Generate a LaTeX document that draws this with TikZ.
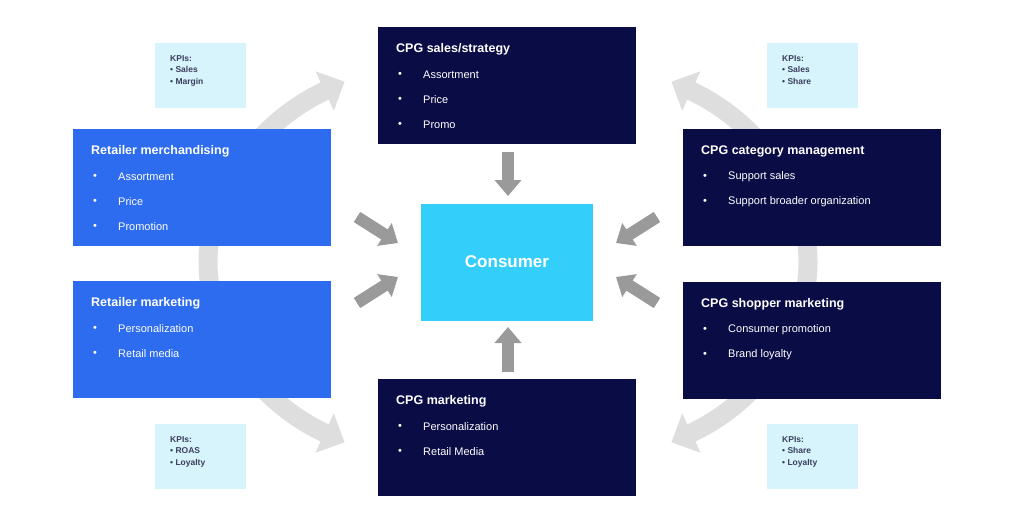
\documentclass[tikz,border=0pt]{standalone}
\usepackage{fontspec}
\setmainfont{Liberation Sans}
\usetikzlibrary{arrows.meta}
\definecolor{navy}{HTML}{0A0C45}
\definecolor{rblue}{HTML}{2D6BEF}
\definecolor{cons}{HTML}{33CEFA}
\definecolor{kpi}{HTML}{D7F3FC}
\definecolor{ring}{HTML}{DEDEDE}
\definecolor{garr}{HTML}{9A9A9A}
\definecolor{kpitext}{HTML}{3A3F5C}
\tikzset{
 box/.style={draw=none,minimum width=258pt,minimum height=117pt,anchor=north west,inner sep=0},
 ttl/.style={anchor=west,text=white,font=\bfseries\fontsize{12.5}{14}\selectfont,inner sep=0},
 itm/.style={anchor=west,text=white,font=\fontsize{11}{13}\selectfont,inner sep=0},
 kbox/.style={fill=kpi,minimum width=91pt,minimum height=65pt,anchor=north west,inner sep=0},
 ktxt/.style={anchor=north west,text=kpitext,font=\bfseries\fontsize{8.5}{11.5}\selectfont,align=left,inner sep=0},
 ringarr/.style={draw=ring,line width=19pt,-{Triangle[width=42pt,length=22pt]}},
 garrow/.style={draw=garr,line width=12pt,-{Triangle[width=26pt,length=16pt]}},
}
\newcommand{\mybox}[6]{% name, x, y, color, title, items
 \node[box,fill=#4] (#1) at (#2,#3) {};
 \node[ttl] (#1t) at (#2+18,#3+22) {#5};
 \foreach \t [count=\i] in {#6} {
   \node[itm] at (#2+20,#3+23+\i*25) {•};
   \node[itm] at (#2+45,#3+23+\i*25) {\t};
 }
}
\begin{document}
\begin{tikzpicture}[x=1pt,y=-1pt]
\useasboundingbox (0,0) rectangle (1024,505);
% ring arcs
\coordinate (L) at (208,262);
\coordinate (R) at (808,262);
\draw[ringarr] (L) arc[start angle=180,end angle=123,x radius=300,y radius=-215];
\draw[ringarr] (L) arc[start angle=180,end angle=237,x radius=300,y radius=-215];
\draw[ringarr] (R) arc[start angle=0,end angle=57,x radius=300,y radius=-215];
\draw[ringarr] (R) arc[start angle=0,end angle=-57,x radius=300,y radius=-215];
% kpis
\node[kbox] (k1) at (155,43) {};
\node[ktxt] at (170,55) {KPIs:\\ • Sales\\ • Margin};
\node[kbox] (k2) at (155,424) {};
\node[ktxt] at (170,436) {KPIs:\\ • ROAS\\ • Loyalty};
\node[kbox] (k3) at (767,43) {};
\node[ktxt] at (782,55) {KPIs:\\ • Sales\\ • Share};
\node[kbox] (k4) at (767,424) {};
\node[ktxt] at (782,436) {KPIs:\\ • Share\\ • Loyalty};
% boxes
\mybox{rm}{73}{129}{rblue}{Retailer merchandising}{Assortment,Price,Promotion}
\mybox{rmk}{73}{281}{rblue}{Retailer marketing}{Personalization,Retail media}
\mybox{cs}{378}{27}{navy}{CPG sales/strategy}{Assortment,Price,Promo}
\mybox{cm}{378}{379}{navy}{CPG marketing}{Personalization,Retail Media}
\mybox{cc}{683}{129}{navy}{CPG category management}{Support sales,Support broader organization}
\mybox{csm}{683}{282}{navy}{CPG shopper marketing}{Consumer promotion,Brand loyalty}
\node[fill=cons,minimum width=172pt,minimum height=117pt,inner sep=0,text=white,font=\bfseries\fontsize{17}{20}\selectfont] (con) at (507,262) {Consumer};
% gray arrows
\coordinate (a1) at (508,152); \coordinate (b1) at (508,196);
\coordinate (a2) at (508,372); \coordinate (b2) at (508,327);
\coordinate (a3) at (357,217); \coordinate (b3) at (398,243);
\coordinate (a4) at (357,303); \coordinate (b4) at (398,277);
\coordinate (a5) at (657,217); \coordinate (b5) at (616,243);
\coordinate (a6) at (657,303); \coordinate (b6) at (616,277);
\foreach \i in {1,...,6} \draw[garrow] (a\i) -- (b\i);
\end{tikzpicture}
\end{document}
